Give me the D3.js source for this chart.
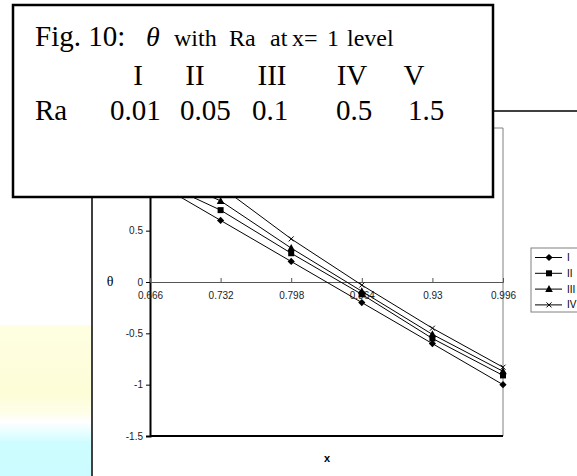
<!DOCTYPE html>
<html>
<head>
<meta charset="utf-8">
<script src="https://cdn.jsdelivr.net/npm/d3@7"></script>
<style>
  html, body { margin: 0; padding: 0; background: #fff; }
  svg { display: block; }
</style>
</head>
<body>
<svg id="chart" width="577" height="476"></svg>
<script>
// Positions along the x direction (category labels of the horizontal axis)
const xTicks = [0.666, 0.732, 0.798, 0.864, 0.93, 0.996];
const xTickLabels = ["0.666", "0.732", "0.798", "0.864", "0.93", "0.996"];
const yTicks = [-1.5, -1, -0.5, 0, 0.5, 1, 1.5];

// Temperature profiles θ for each Rayleigh number case
const seriesNames = ["I", "II", "III", "IV"];
const thetaI   = [1.00, 0.60, 0.20, -0.20, -0.60, -1.00];
const thetaII  = [1.02, 0.70, 0.28, -0.12, -0.55, -0.91];
const thetaIII = [1.10, 0.79, 0.33, -0.09, -0.51, -0.87];
const thetaIV  = [1.35, 0.93, 0.42, -0.03, -0.45, -0.83];

// Caption table
const caseLabels = ["I", "II", "III", "IV", "V"];
const raValues = ["0.01", "0.05", "0.1", "0.5", "1.5"];
const titleWords = ["with", "Ra", "at", "x=", "1", "level"];

const svg = d3.select("#chart");
const serif = "'Liberation Serif', 'Times New Roman', serif";
const sans = "'Liberation Sans', Arial, sans-serif";

// Decorative page backdrop at the left edge
const defs = svg.append("defs");
const grad = defs.append("linearGradient").attr("id", "sideGrad")
  .attr("x1", 0).attr("y1", 0).attr("x2", 0).attr("y2", 1);
[[0, "#fefee2"], [0.45, "#fdfdd8"], [0.58, "#fefee8"], [0.64, "#ffffff"], [0.72, "#e4feff"], [0.78, "#cefcff"], [1, "#ccfcff"]]
  .forEach(([o, c]) => grad.append("stop").attr("offset", o).attr("stop-color", c));
svg.append("rect").attr("x", 0).attr("y", 325).attr("width", 91).attr("height", 151)
  .attr("fill", "url(#sideGrad)");

// Chart area frame
svg.append("line").attr("x1", 92).attr("x2", 92).attr("y1", 111).attr("y2", 476)
  .attr("stroke", "#000").attr("stroke-width", 1.5);
svg.append("line").attr("x1", 92).attr("x2", 577).attr("y1", 111).attr("y2", 111)
  .attr("stroke", "#000").attr("stroke-width", 1.5);

// Plot area
const plot = { left: 150, right: 503, top: 128, bottom: 436 };
const x = d3.scaleLinear().domain([0.666, 0.996]).range([plot.left, plot.right]);
const y = d3.scaleLinear().domain([-1.5, 1.5]).range([plot.bottom, plot.top]);

// Plot area border (top and right in gray)
svg.append("path")
  .attr("d", `M${plot.left},${plot.top}H${plot.right}V${plot.bottom}`)
  .attr("fill", "none").attr("stroke", "#808080").attr("stroke-width", 1);
svg.append("line").attr("x1", plot.left).attr("x2", plot.right)
  .attr("y1", plot.bottom).attr("y2", plot.bottom)
  .attr("stroke", "#000").attr("stroke-width", 2);

// Y axis
const yAxis = d3.axisLeft(y).tickValues(yTicks).tickSize(4).tickPadding(3)
  .tickFormat(d => String(d));
const gy = svg.append("g").attr("transform", `translate(${plot.left},0)`).call(yAxis);
gy.select(".domain").attr("stroke", "#000").attr("stroke-width", 2);
gy.selectAll(".tick line").attr("stroke", "#000");
gy.selectAll(".tick text").attr("font-family", sans).attr("font-size", 10).attr("fill", "#222");

// X axis crossing at θ = 0
const xAxis = d3.axisTop(x).tickValues(xTicks).tickSize(4)
  .tickFormat((d, i) => xTickLabels[i]);
const gx = svg.append("g").attr("transform", `translate(0,${y(0)})`).call(xAxis);
gx.select(".domain").attr("stroke", "#555").attr("stroke-width", 1);
gx.selectAll(".tick line").attr("stroke", "#555");
gx.selectAll(".tick text").attr("font-family", sans).attr("font-size", 10).attr("fill", "#222")
  .attr("y", 17).attr("dy", "0");

// Axis titles
svg.append("text").attr("x", 110).attr("y", 286).attr("text-anchor", "middle")
  .attr("font-family", serif).attr("font-size", 14).text("θ");
svg.append("text").attr("x", 327).attr("y", 462).attr("text-anchor", "middle")
  .attr("font-family", sans).attr("font-weight", "bold").attr("font-size", 11).text("x");

// Series
const series = [thetaI, thetaII, thetaIII, thetaIV].map((vals, i) => ({
  name: seriesNames[i],
  points: vals.map((v, j) => ({ x: xTicks[j], y: v }))
}));

svg.append("clipPath").attr("id", "plotClip").append("rect")
  .attr("x", plot.left - 6).attr("y", plot.top).attr("width", plot.right - plot.left + 12)
  .attr("height", plot.bottom - plot.top);

const line = d3.line().x(d => x(d.x)).y(d => y(d.y));
function drawMarker(g, i, cx, cy) {
  if (i === 0) {
    g.append("path").attr("d", `M${cx},${cy - 3.6}L${cx + 3.6},${cy}L${cx},${cy + 3.6}L${cx - 3.6},${cy}Z`)
      .attr("fill", "#000");
  } else if (i === 1) {
    g.append("rect").attr("x", cx - 3).attr("y", cy - 3).attr("width", 6).attr("height", 6)
      .attr("fill", "#000");
  } else if (i === 2) {
    g.append("path").attr("d", `M${cx},${cy - 4}L${cx + 3.8},${cy + 3}L${cx - 3.8},${cy + 3}Z`)
      .attr("fill", "#000");
  } else {
    g.append("path").attr("d", `M${cx - 2.5},${cy - 2.5}L${cx + 2.5},${cy + 2.5}M${cx - 2.5},${cy + 2.5}L${cx + 2.5},${cy - 2.5}`)
      .attr("stroke", "#000").attr("stroke-width", 1).attr("fill", "none");
  }
}

const gs = svg.append("g").attr("clip-path", "url(#plotClip)");
series.forEach((s, i) => {
  gs.append("path").datum(s.points).attr("d", line)
    .attr("fill", "none").attr("stroke", "#000").attr("stroke-width", 1);
  s.points.forEach(p => drawMarker(gs, i, x(p.x), y(p.y)));
});

// Legend
const lg = svg.append("g");
lg.append("rect").attr("x", 531).attr("y", 248).attr("width", 60).attr("height", 64)
  .attr("fill", "#fff").attr("stroke", "#808080").attr("stroke-width", 1);
series.forEach((s, i) => {
  const ly = 257.5 + i * 15.8;
  lg.append("line").attr("x1", 535).attr("x2", 562).attr("y1", ly).attr("y2", ly)
    .attr("stroke", "#000").attr("stroke-width", 1);
  drawMarker(lg, i, 549, ly);
  lg.append("text").attr("x", 567).attr("y", ly + 3.5)
    .attr("font-family", sans).attr("font-size", 10).text(s.name);
});

// Caption box
const cap = svg.append("g");
cap.append("rect").attr("x", 13).attr("y", 5).attr("width", 480).attr("height", 192)
  .attr("fill", "#fff").attr("stroke", "#000").attr("stroke-width", 2.5);

cap.append("text").attr("x", 35).attr("y", 46).attr("font-family", serif).attr("font-size", 29)
  .text("Fig. 10:");
cap.append("text").attr("x", 146).attr("y", 46).attr("font-family", serif).attr("font-style", "italic")
  .attr("font-size", 28).text("θ");
const wordX = [174, 229, 270, 292, 327, 347];
titleWords.forEach((w, i) => {
  cap.append("text").attr("x", wordX[i]).attr("y", 46).attr("font-family", serif)
    .attr("font-size", 24).text(w);
});

const caseX = [138, 195, 272, 352, 414];
caseLabels.forEach((c, i) => {
  cap.append("text").attr("x", caseX[i]).attr("y", 85).attr("text-anchor", "middle")
    .attr("font-family", serif).attr("font-size", 29).text(c);
});
cap.append("text").attr("x", 35).attr("y", 120).attr("font-family", serif).attr("font-size", 29).text("Ra");
const raX = [110, 180, 252, 336, 408];
raValues.forEach((r, i) => {
  cap.append("text").attr("x", raX[i]).attr("y", 120)
    .attr("font-family", serif).attr("font-size", 29).text(r);
});
</script>
</body>
</html>
